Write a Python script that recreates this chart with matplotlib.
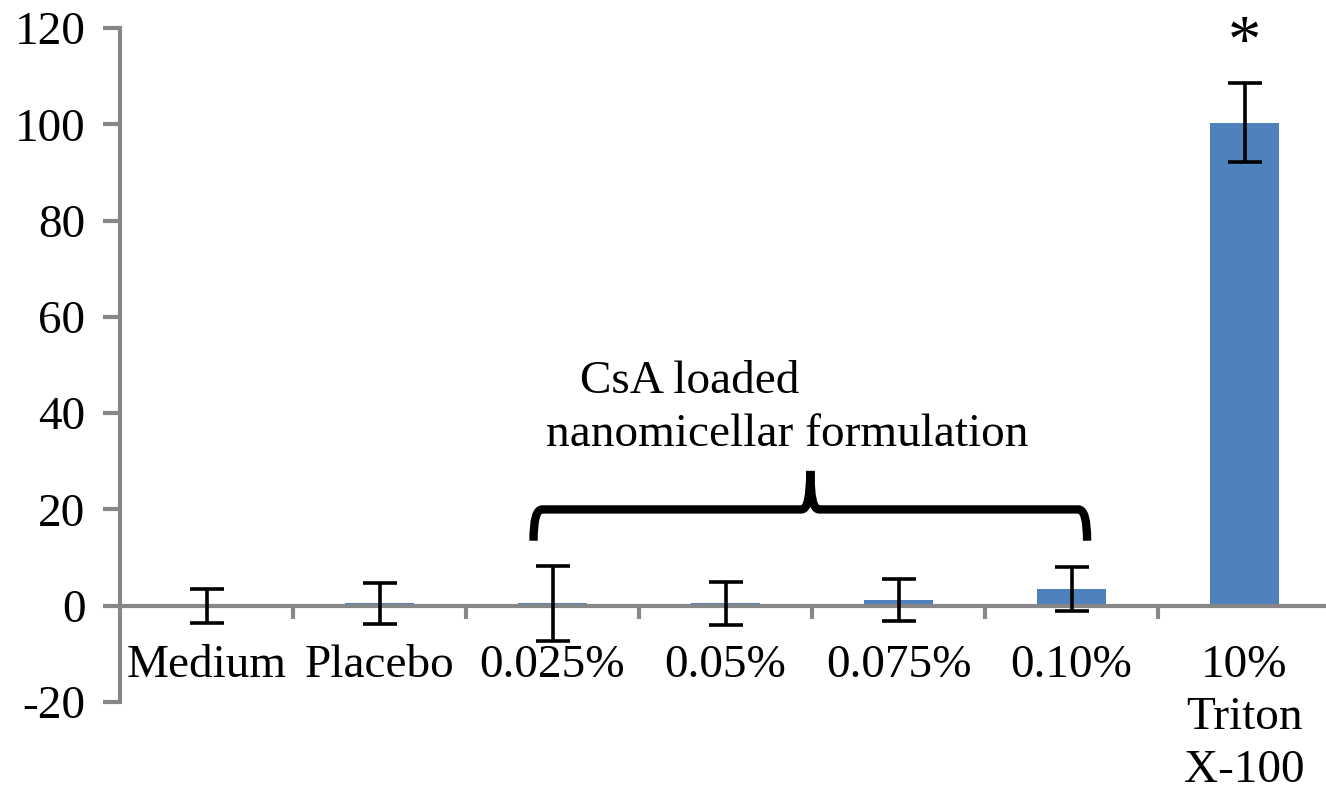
import numpy as np
import matplotlib
matplotlib.use("Agg")
import matplotlib.pyplot as plt
from matplotlib.path import Path
from matplotlib.patches import PathPatch

plt.rcParams['font.family'] = ['Liberation Serif', 'DejaVu Serif']

# data
categories = ['Medium', 'Placebo', '0.025%', '0.05%', '0.075%', '0.10%', '10%\nTriton\nX-100']
values     = [0.0, 0.5, 0.5, 0.5, 1.2, 3.5, 100.3]
errors     = [3.5, 4.2, 7.8, 4.4, 4.4, 4.5, 8.2]
yticks     = [-20, 0, 20, 40, 60, 80, 100, 120]

axis_grey = '#878787'
bar_blue  = '#4F81BD'
fs = 34

fig = plt.figure(figsize=(13.26, 7.91), dpi=100)
ax = fig.add_axes([0.0905, 0.1125, 0.9133, 0.8521])

x = np.arange(len(categories))
ax.bar(x, values, width=0.4, color=bar_blue, zorder=2)
ax.errorbar(x, values, yerr=errors, fmt='none', ecolor='black',
            elinewidth=2.6, capsize=12, capthick=2.6, zorder=3)

ax.set_xlim(-0.5, len(categories) - 0.5)
ax.set_ylim(-20, 120)
ax.set_yticks(yticks)
ax.set_yticklabels([str(v) for v in yticks], fontsize=fs)

# x-axis sits at y=0, ticks at category boundaries, labels at centres
ax.spines['bottom'].set_position(('data', 0))
ax.spines['top'].set_visible(False)
ax.spines['right'].set_visible(False)
for s in ['left', 'bottom']:
    ax.spines[s].set_color(axis_grey)
    ax.spines[s].set_linewidth(3)
ax.set_xticks(x)
ax.set_xticklabels(categories, fontsize=fs, linespacing=1.3, va='top')
ax.tick_params(axis='x', which='major', length=0, pad=28)
ax.set_xticks(np.arange(0.5, len(categories) - 0.5, 1), minor=True)
ax.tick_params(axis='x', which='minor', length=9, width=3, color=axis_grey)
ax.tick_params(axis='y', length=12, width=3, color=axis_grey, pad=13, direction='out')

# significance star
ax.text(6.0, 116.5, '*', ha='center', va='center', fontsize=48)

# curly brace over the formulation bars
x0, x1, xm = 1.89, 5.09, 3.49
yb, ye, yt = 20.0, 13.5, 28.0
verts = [(x0, ye), (x0, yb), (x0 + 0.05, yb), (xm - 0.05, yb), (xm, yb), (xm, yt),
         (xm, yt), (xm, yb), (xm + 0.05, yb), (x1 - 0.05, yb), (x1, yb), (x1, ye)]
codes = [Path.MOVETO, Path.CURVE3, Path.CURVE3, Path.LINETO, Path.CURVE3, Path.CURVE3,
         Path.MOVETO, Path.CURVE3, Path.CURVE3, Path.LINETO, Path.CURVE3, Path.CURVE3]
ax.add_patch(PathPatch(Path(verts, codes), fill=False, lw=6, color='black',
                       capstyle='butt', joinstyle='round'))

ax.text(2.16, 44.2, 'CsA loaded', ha='left', va='baseline', fontsize=fs)
ax.text(1.96, 33.2, 'nanomicellar formulation', ha='left', va='baseline', fontsize=fs)

fig.savefig('out.png', dpi=100)
